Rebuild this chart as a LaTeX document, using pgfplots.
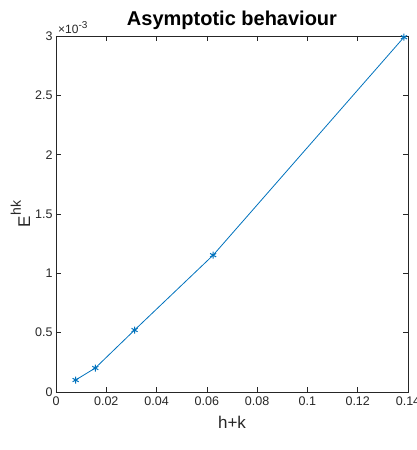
\documentclass[border=0pt]{standalone}
\usepackage{fontspec}
\setmainfont{Liberation Sans}
\usepackage{pgfplots}
\pgfplotsset{compat=1.18}
\usetikzlibrary{calc}
\definecolor{mblue}{HTML}{0072BD}
\definecolor{axgray}{HTML}{262626}

\begin{document}
\begin{tikzpicture}
\begin{axis}[
  scale only axis, width=352pt, height=356pt,
  xmin=0, xmax=0.14, ymin=0, ymax=0.003,
  clip mode=individual,
  xtick={0,0.02,0.04,0.06,0.08,0.1,0.12,0.14},
  xticklabels={0,0.02,0.04,0.06,0.08,0.1,0.12,0.14},
  ytick={0,0.0005,0.001,0.0015,0.002,0.0025,0.003},
  yticklabels={0,0.5,1,1.5,2,2.5,3},
  scaled x ticks=false, scaled y ticks=false,
  tick align=inside, major tick length=5pt,
  tick style={axgray, line width=0.7pt},
  axis line style={axgray, line width=0.7pt},
  ticklabel style={font=\fontsize{12.5}{13}\selectfont, text=axgray},
  xticklabel style={yshift=-1pt},
  title={Asymptotic behaviour},
  title style={font=\bfseries\fontsize{20}{21}\selectfont, yshift=-3pt},
  xlabel={h+k},
  xlabel style={font=\fontsize{17}{18}\selectfont, text=axgray, yshift=-4pt},
  ylabel={E\raisebox{0.55em}{\fontsize{14}{14}\selectfont hk}},
  ylabel style={font=\fontsize{17}{18}\selectfont, text=axgray, yshift=-2pt},
]
\addplot[mblue, line width=0.8pt, mark=asterisk, mark size=3.5pt, mark options={solid, line width=1pt}]
  coordinates {(0.0078125,0.000101) (0.015625,0.000202) (0.03125,0.000522) (0.0625,0.001153) (0.1384,0.00299)};
\coordinate (sw) at (rel axis cs:0,0);
\coordinate (ne) at (rel axis cs:1,1);
\end{axis}
\node[anchor=south west, font=\fontsize{12}{12}\selectfont, text=axgray, inner sep=1pt] at ($(sw|-ne)+(1pt,1pt)$) {\symbol{"00D7}10\raisebox{0.4em}{\fontsize{10}{10}\selectfont -3}};
\pgfresetboundingbox
\useasboundingbox ($(sw)+(-56pt,-58pt)$) rectangle ($(ne)+(8pt,36pt)$);
\end{tikzpicture}
\end{document}
